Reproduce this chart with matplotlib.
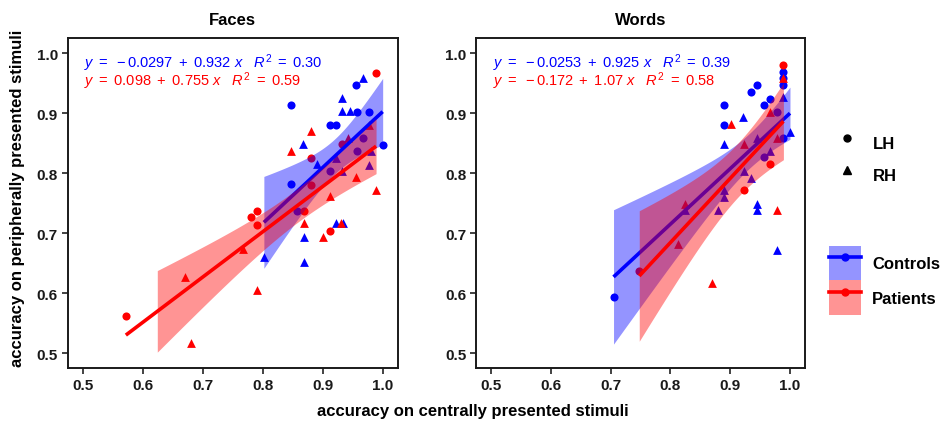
import matplotlib
matplotlib.use("Agg")
import matplotlib.pyplot as plt
import numpy as np
from matplotlib.lines import Line2D
from matplotlib.patches import Patch

plt.rcParams['font.family'] = 'Liberation Sans'
plt.rcParams['mathtext.fontset'] = 'custom'
plt.rcParams['mathtext.rm'] = 'Liberation Sans'
plt.rcParams['mathtext.it'] = 'Liberation Sans:italic'

# ---- Faces: (central accuracy, peripheral accuracy) per group / hemisphere
faces_con_lh_x = [0.847, 0.847, 0.912, 0.923, 0.956, 0.957, 0.978, 1.000, 0.858, 0.912, 0.957, 0.967]
faces_con_lh_y = [0.913, 0.781, 0.880, 0.880, 0.946, 0.902, 0.902, 0.847, 0.737, 0.804, 0.837, 0.858]
faces_con_rh_x = [0.967, 0.933, 0.933, 0.945, 0.868, 0.890, 0.923, 0.934, 0.869, 0.802, 0.869, 0.978, 0.981, 0.923, 0.933]
faces_con_rh_y = [0.959, 0.925, 0.903, 0.903, 0.848, 0.815, 0.716, 0.716, 0.694, 0.660, 0.651, 0.813, 0.837, 0.825, 0.804]
faces_pat_lh_x = [0.989, 0.933, 0.880, 0.880, 0.869, 0.791, 0.780, 0.791, 0.912, 0.572]
faces_pat_lh_y = [0.967, 0.848, 0.825, 0.780, 0.737, 0.737, 0.726, 0.714, 0.703, 0.561]
faces_pat_rh_x = [0.880, 0.943, 0.847, 0.956, 0.912, 0.989, 0.869, 0.930, 0.901, 0.768, 0.670, 0.791, 0.681, 0.978]
faces_pat_rh_y = [0.870, 0.859, 0.837, 0.793, 0.762, 0.771, 0.716, 0.716, 0.694, 0.673, 0.627, 0.605, 0.517, 0.880]

# ---- Words
words_con_lh_x = [0.989, 0.989, 0.989, 0.934, 0.945, 0.967, 0.956, 0.890, 0.890, 0.978, 0.989, 0.956, 0.705]
words_con_lh_y = [0.969, 0.958, 0.947, 0.935, 0.946, 0.924, 0.913, 0.913, 0.880, 0.902, 0.858, 0.826, 0.594]
words_con_rh_x = [0.922, 0.989, 0.890, 1.000, 0.945, 0.967, 0.923, 0.934, 0.890, 0.890, 0.880, 0.945, 0.945, 0.978, 0.825]
words_con_rh_y = [0.893, 0.926, 0.848, 0.869, 0.859, 0.837, 0.804, 0.792, 0.771, 0.760, 0.738, 0.749, 0.738, 0.671, 0.738]
words_pat_lh_x = [0.989, 0.967, 0.923, 0.748]
words_pat_lh_y = [0.980, 0.815, 0.771, 0.637]
words_pat_rh_x = [0.989, 0.902, 0.967, 0.978, 0.923, 0.978, 0.825, 0.812, 0.869]
words_pat_rh_y = [0.958, 0.881, 0.902, 0.859, 0.848, 0.738, 0.749, 0.682, 0.617]

# fitted lines as reported (intercept, slope, R^2): controls, patients
faces_intercept = [-0.0297, 0.098]
faces_slope = [0.932, 0.755]
faces_r2 = [0.30, 0.59]
words_intercept = [-0.0253, -0.172]
words_slope = [0.925, 1.07]
words_r2 = [0.39, 0.58]

groups = ["Controls", "Patients"]
colors = ["#0000ff", "#ff0000"]
T_CRIT = 2.05

fig = plt.figure(figsize=(9.41, 4.27), dpi=100)
ax_faces = fig.add_axes([0.0719, 0.1358, 0.3507, 0.7728])
ax_words = fig.add_axes([0.5058, 0.1358, 0.3496, 0.7728])

panels = [
    (ax_faces, "Faces",
     [(faces_con_lh_x, faces_con_lh_y, faces_con_rh_x, faces_con_rh_y),
      (faces_pat_lh_x, faces_pat_lh_y, faces_pat_rh_x, faces_pat_rh_y)],
     faces_intercept, faces_slope, faces_r2),
    (ax_words, "Words",
     [(words_con_lh_x, words_con_lh_y, words_con_rh_x, words_con_rh_y),
      (words_pat_lh_x, words_pat_lh_y, words_pat_rh_x, words_pat_rh_y)],
     words_intercept, words_slope, words_r2),
]

for ax, title, data, icpt, slope, r2 in panels:
    # points first (ribbons are drawn over them)
    for g in range(2):
        lx, ly, rx, ry = data[g]
        ax.scatter(lx, ly, s=34, marker='o', color=colors[g], linewidths=0, zorder=1 + g * 0.1)
        ax.scatter(rx, ry, s=40, marker='^', color=colors[g], linewidths=0, zorder=1 + g * 0.1)
    for g in range(2):
        lx, ly, rx, ry = data[g]
        x = np.array(lx + rx)
        y = np.array(ly + ry)
        n = len(x)
        a, b = icpt[g], slope[g]
        res = y - (a + b * x)
        s = np.sqrt(np.sum(res ** 2) / (n - 2))
        xb = x.mean()
        sxx = np.sum((x - xb) ** 2)
        xs = np.linspace(x.min(), x.max(), 200)
        yh = a + b * xs
        se = s * np.sqrt(1.0 / n + (xs - xb) ** 2 / sxx)
        lo = yh - T_CRIT * se
        hi = yh + T_CRIT * se
        ok = (lo >= 0.5) & (hi <= 1.0)
        ax.fill_between(xs[ok], lo[ok], hi[ok], color=colors[g], alpha=0.42,
                        linewidth=0, zorder=2 + g)
        ax.plot(xs, yh, color=colors[g], lw=2.6, solid_capstyle='butt', zorder=2.5 + g)
        txt = rf"$y\ =\ {a:g}\ +\ {b:g}\ x\quad R^2\ =\ {r2[g]:.2f}$"
        ax.text(0.503, 0.985 - 0.0295 * g, txt, color=colors[g], fontsize=10.5,
                ha='left', va='center', zorder=5)

    ax.set_xlim(0.475, 1.025)
    ax.set_ylim(0.475, 1.025)
    ticks = [0.5, 0.6, 0.7, 0.8, 0.9, 1.0]
    ax.set_xticks(ticks)
    ax.set_yticks(ticks)
    ax.set_xticklabels(["%.1f" % t for t in ticks])
    ax.set_yticklabels(["%.1f" % t for t in ticks])
    ax.tick_params(direction='out', length=4, width=1.2, color='#222222',
                   labelsize=11, labelcolor='#1a1a1a', pad=3)
    for lab in ax.get_xticklabels() + ax.get_yticklabels():
        lab.set_fontweight('bold')
    for sp in ax.spines.values():
        sp.set_linewidth(1.4)
        sp.set_color('#1a1a1a')
    ax.set_title(title, fontsize=12, fontweight='bold', pad=10)

fig.text(0.5025, 1 - 412 / 427, "accuracy on centrally presented stimuli",
         ha='center', va='center', fontsize=12, fontweight='bold')
fig.text(18 / 941, 1 - 198 / 427, "accuracy on peripherally presented stimuli",
         ha='center', va='center', rotation=90, fontsize=12, fontweight='bold')

# shape legend
shape_handles = [
    Line2D([], [], marker='o', color='black', linestyle='none', markersize=5),
    Line2D([], [], marker='^', color='black', linestyle='none', markersize=6),
]
leg1 = fig.legend(shape_handles, ["LH", "RH"], loc='upper left',
                  bbox_to_anchor=(831 / 941, 1 - 128 / 427), frameon=False,
                  prop={'weight': 'bold', 'size': 12}, handlelength=1.9,
                  handleheight=2.6, labelspacing=0, borderpad=0, borderaxespad=0,
                  handletextpad=0.6)

# group legend: ribbon fill + line + point
group_handles = []
for g in range(2):
    patch = Patch(facecolor=colors[g], alpha=0.42, linewidth=0)
    line = Line2D([], [], color=colors[g], lw=2.6, marker='o', markersize=5)
    group_handles.append((patch, line))
leg2 = fig.legend(group_handles, groups, loc='upper left',
                  bbox_to_anchor=(829 / 941, 1 - 247 / 427), frameon=False,
                  prop={'weight': 'bold', 'size': 12}, handlelength=1.9,
                  handleheight=2.8, labelspacing=0, borderpad=0, borderaxespad=0,
                  handletextpad=0.7)

fig.savefig("out.png", dpi=100)
